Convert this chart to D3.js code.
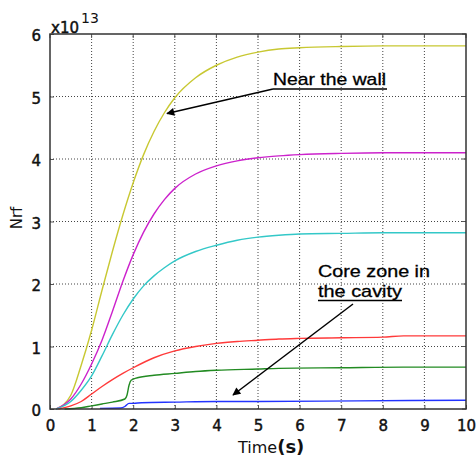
<!DOCTYPE html>
<html><head><meta charset="utf-8">
<script src="https://cdn.jsdelivr.net/npm/d3@7"></script>
<style>body{margin:0;background:#fff}svg{display:block}</style>
</head><body><div id="chart"></div>
<script>
// ---- data (values in units of 1e13) ----
const xTicks = [0,1,2,3,4,5,6,7,8,9,10];
const yTicks = [0,1,2,3,4,5,6];

const yellowT = [0.15,0.5,0.75,1,1.25,1.5,1.75,2,2.25,2.5,2.75,3,3.5,4,4.5,5,5.5,6,7,8,9,10];
const yellowV = [0,0.22,0.7,1.26,1.9,2.52,3.1,3.62,4.07,4.44,4.74,4.98,5.3,5.5,5.63,5.71,5.76,5.78,5.8,5.81,5.81,5.81];

const magentaT = [0.15,0.5,0.75,1,1.25,1.5,1.75,2,2.25,2.5,2.75,3,3.5,4,4.5,5,5.5,6,7,8,10];
const magentaV = [0,0.16,0.4,0.72,1.1,1.56,2.04,2.47,2.83,3.12,3.35,3.53,3.76,3.89,3.97,4.02,4.05,4.07,4.09,4.1,4.1];

const cyanT = [0.15,0.5,0.75,1,1.25,1.5,1.75,2,2.25,2.5,2.75,3,3.5,4,4.5,5,5.5,6,7,8,10];
const cyanV = [0,0.12,0.3,0.53,0.85,1.19,1.5,1.76,1.97,2.13,2.26,2.37,2.52,2.62,2.7,2.75,2.78,2.8,2.81,2.82,2.82];

const redT = [0.2,0.5,0.75,1,1.25,1.5,1.75,2,2.5,3,3.5,4,4.5,5,5.5,6,7,8,8.5,10];
const redV = [0,0.05,0.12,0.24,0.36,0.47,0.57,0.66,0.82,0.93,1.0,1.05,1.08,1.1,1.12,1.13,1.14,1.15,1.17,1.17];

const greenT = [0.35,0.75,1,1.25,1.5,1.8,1.85,1.9,1.95,2.1,2.5,3,3.5,4,5,5.5,7,8.5,10];
const greenV = [0,0.02,0.05,0.08,0.11,0.16,0.22,0.38,0.46,0.5,0.54,0.57,0.6,0.62,0.64,0.65,0.66,0.67,0.67];

const blueT = [1.2,1.7,1.8,1.9,2.0,2.2,3,4,5,7.4,10];
const blueV = [0.01,0.015,0.04,0.09,0.09,0.1,0.11,0.12,0.12,0.13,0.14];

const seriesNames = ["yellow","magenta","cyan","red","green","blue"];
const seriesColors = ["#c8c832","#cc22cc","#33c8c8","#ff3a3a","#228b22","#2233ff"];

// ---- layout ----
const W = 476, H = 459;
const svg = d3.select("#chart").append("svg").attr("width",W).attr("height",H);

const x = d3.scaleLinear().domain([0,10]).range([50,466]);
const y = d3.scaleLinear().domain([0,6]).range([409,34]);

const font = "DejaVu Sans, Verdana, sans-serif";

// grid
const g = svg.append("g");
g.selectAll(".vg").data(xTicks.slice(1,-1)).join("line")
  .attr("x1",d=>x(d)).attr("x2",d=>x(d)).attr("y1",y(0)).attr("y2",y(6))
  .attr("stroke","#444").attr("stroke-width",1).attr("stroke-dasharray","1,2");
g.selectAll(".hg").data(yTicks.slice(1,-1)).join("line")
  .attr("y1",d=>y(d)).attr("y2",d=>y(d)).attr("x1",x(0)).attr("x2",x(10))
  .attr("stroke","#444").attr("stroke-width",1).attr("stroke-dasharray","1,2");

// axes via d3
const xAxis = d3.axisBottom(x).tickValues(xTicks).tickSize(-4).tickPadding(11).tickFormat(d3.format("d"));
const yAxis = d3.axisLeft(y).tickValues(yTicks).tickSize(-4).tickPadding(9).tickFormat(d3.format("d"));
const gx = svg.append("g").attr("transform",`translate(0,${y(0)})`).call(xAxis);
const gy = svg.append("g").attr("transform",`translate(${x(0)},0)`).call(yAxis);
[gx,gy].forEach(a=>{
  a.select(".domain").remove();
  a.selectAll("line").attr("stroke","#555");
  a.selectAll("text").attr("font-family",font).attr("font-size",15).attr("fill","#111")
    .attr("stroke","#111").attr("stroke-width",0.45);
});
gy.selectAll("text").attr("dy","0.45em");

// top/right ticks
svg.append("g").selectAll("line").data(xTicks).join("line")
  .attr("x1",d=>x(d)).attr("x2",d=>x(d)).attr("y1",y(6)).attr("y2",y(6)+4).attr("stroke","#555");
svg.append("g").selectAll("line").data(yTicks).join("line")
  .attr("y1",d=>y(d)).attr("y2",d=>y(d)).attr("x1",x(10)).attr("x2",x(10)-4).attr("stroke","#555");

// series
const allT = [yellowT,magentaT,cyanT,redT,greenT,blueT];
const allV = [yellowV,magentaV,cyanV,redV,greenV,blueV];
const line = d3.line().x(d=>x(d[0])).y(d=>y(d[1])).curve(d3.curveMonotoneX);
seriesNames.forEach((n,i)=>{
  const pts = allT[i].map((t,j)=>[t,allV[i][j]]);
  svg.append("path").datum(pts).attr("d",line).attr("fill","none")
    .attr("stroke",seriesColors[i]).attr("stroke-width",1.4);
});

// box
svg.append("rect").attr("x",x(0)).attr("y",y(6)).attr("width",x(10)-x(0)).attr("height",y(0)-y(6))
  .attr("fill","none").attr("stroke","#333").attr("stroke-width",1.5);

// exponent label
const ex = svg.append("text").attr("x",51).attr("y",33).attr("font-family",font).attr("font-size",15).attr("fill","#111");
ex.append("tspan").text("x10").attr("stroke","#111").attr("stroke-width",0.45);
ex.append("tspan").text("13").attr("dy",-10).attr("dx",2).attr("font-size",14);

// axis labels
svg.append("text").attr("transform","translate(22,218) rotate(-90)").attr("text-anchor","middle")
  .attr("font-family",font).attr("font-size",15).attr("fill","#111").text("Nrf");
const xl = svg.append("text").attr("x",238).attr("y",453).attr("font-family",font).attr("fill","#111");
xl.append("tspan").attr("font-size",16).text("Time");
xl.append("tspan").attr("font-size",18).attr("font-weight","bold").text("(s)");

// annotations
const defs = svg.append("defs");
defs.append("marker").attr("id","ah").attr("viewBox","0 0 10 10").attr("refX",9).attr("refY",5)
  .attr("markerWidth",10).attr("markerHeight",8).attr("markerUnits","userSpaceOnUse").attr("orient","auto")
  .append("path").attr("d","M0,0L10,5L0,10Z").attr("fill","#000");

const afont = "Liberation Sans, Arial, sans-serif";
svg.append("text").attr("x",273).attr("y",85).attr("font-family",afont).attr("font-size",17)
  .attr("textLength",113).attr("lengthAdjust","spacingAndGlyphs").attr("fill","#000")
  .attr("stroke","#000").attr("stroke-width",0.3).text("Near the wall");
svg.append("line").attr("x1",273).attr("x2",387).attr("y1",89).attr("y2",89).attr("stroke","#000").attr("stroke-width",1.5);
svg.append("line").attr("x1",273).attr("y1",89).attr("x2",167).attr("y2",113.5)
  .attr("stroke","#000").attr("stroke-width",1.5).attr("marker-end","url(#ah)");

svg.append("text").attr("x",318).attr("y",277).attr("font-family",afont).attr("font-size",17)
  .attr("textLength",112).attr("lengthAdjust","spacingAndGlyphs").attr("fill","#000")
  .attr("stroke","#000").attr("stroke-width",0.3).text("Core zone in");
svg.append("text").attr("x",318).attr("y",297).attr("font-family",afont).attr("font-size",17)
  .attr("textLength",84).attr("lengthAdjust","spacingAndGlyphs").attr("fill","#000")
  .attr("stroke","#000").attr("stroke-width",0.3).text("the cavity");
svg.append("line").attr("x1",318).attr("x2",402).attr("y1",300.5).attr("y2",300.5).attr("stroke","#000").attr("stroke-width",1.3);
svg.append("line").attr("x1",353).attr("y1",304).attr("x2",233).attr("y2",395)
  .attr("stroke","#000").attr("stroke-width",1.5).attr("marker-end","url(#ah)");
</script></body></html>
